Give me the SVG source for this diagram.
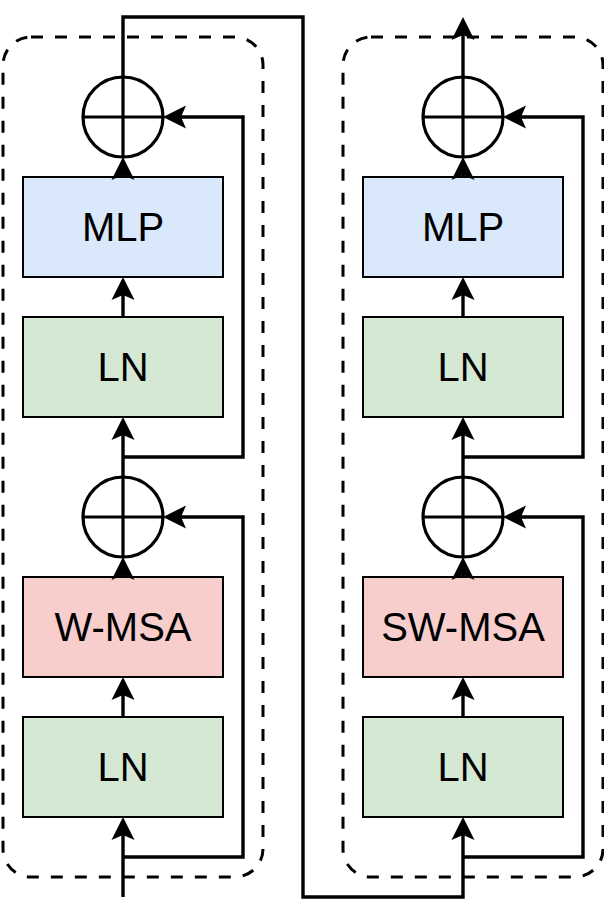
<svg xmlns="http://www.w3.org/2000/svg" width="604" height="914" viewBox="0 0 604 914">
<defs>
<style>
.grp{fill:none;stroke:#000;stroke-width:3;stroke-dasharray:12 12;}
.box{stroke:#000;stroke-width:2;}
.mlp{fill:#dae8fc;}
.ln{fill:#d5e8d4;}
.msa{fill:#f8cecc;}
.sum{fill:#fff;stroke:#000;stroke-width:3.2;}
.lbl{font-family:"Liberation Sans",Arial,Helvetica,sans-serif;font-size:40px;fill:#000;text-anchor:middle;}
.edge{fill:none;stroke:#000;stroke-width:3.4;stroke-linejoin:miter;marker-end:url(#arr);}
.line{fill:none;stroke:#000;stroke-width:3.2;}
</style>
<marker id="arr" viewBox="-6 -12 25 24" markerWidth="25" markerHeight="24" refX="0" refY="0" orient="auto" markerUnits="userSpaceOnUse">
<path d="M18 0 L-5 -11.5 L0 0 L-5 11.5 Z" fill="#000" stroke="none"/>
</marker>
</defs>

<g id="block-left-frame"><rect class="grp" x="3" y="37" width="260" height="840" rx="28" ry="28"/></g>
<g id="block-right-frame"><rect class="grp" x="343" y="37" width="260" height="840" rx="28" ry="28"/></g>

<g id="left-ln1"><rect class="box ln" x="23" y="717" width="200" height="100"/><text class="lbl" x="123" y="781">LN</text></g>
<g id="left-wmsa"><rect class="box msa" x="23" y="577" width="200" height="100"/><text class="lbl" x="123" y="641">W-MSA</text></g>
<g id="left-sum1"><circle class="sum" cx="123" cy="517" r="40"/><path class="line" d="M83 517 H163 M123 477 V557"/></g>
<g id="left-ln2"><rect class="box ln" x="23" y="317" width="200" height="100"/><text class="lbl" x="123" y="381">LN</text></g>
<g id="left-mlp"><rect class="box mlp" x="23" y="177" width="200" height="100"/><text class="lbl" x="123" y="241">MLP</text></g>
<g id="left-sum2"><circle class="sum" cx="123" cy="117" r="40"/><path class="line" d="M83 117 H163 M123 77 V157"/></g>

<g id="right-ln1"><rect class="box ln" x="363" y="717" width="200" height="100"/><text class="lbl" x="463" y="781">LN</text></g>
<g id="right-swmsa"><rect class="box msa" x="363" y="577" width="200" height="100"/><text class="lbl" x="463" y="641">SW-MSA</text></g>
<g id="right-sum1"><circle class="sum" cx="463" cy="517" r="40"/><path class="line" d="M423 517 H503 M463 477 V557"/></g>
<g id="right-ln2"><rect class="box ln" x="363" y="317" width="200" height="100"/><text class="lbl" x="463" y="381">LN</text></g>
<g id="right-mlp"><rect class="box mlp" x="363" y="177" width="200" height="100"/><text class="lbl" x="463" y="241">MLP</text></g>
<g id="right-sum2"><circle class="sum" cx="463" cy="117" r="40"/><path class="line" d="M423 117 H503 M463 77 V157"/></g>

<g id="connectors">
<path class="edge" d="M123 897 V835"/>
<path class="edge" d="M123 857 H243 V517 H181"/>
<path class="edge" d="M123 717 V695"/>
<path class="edge" d="M123 577 V575"/>
<path class="edge" d="M123 477 V435"/>
<path class="edge" d="M123 457 H243 V117 H181"/>
<path class="edge" d="M123 317 V295"/>
<path class="edge" d="M123 177 V175"/>
<path class="edge" d="M123 77 V17 H303 V897 H463 V835"/>
<path class="edge" d="M463 857 H583 V517 H521"/>
<path class="edge" d="M463 717 V695"/>
<path class="edge" d="M463 577 V575"/>
<path class="edge" d="M463 477 V435"/>
<path class="edge" d="M463 457 H583 V117 H521"/>
<path class="edge" d="M463 317 V295"/>
<path class="edge" d="M463 177 V175"/>
<path class="edge" d="M463 77 V35"/>
</g>
</svg>
